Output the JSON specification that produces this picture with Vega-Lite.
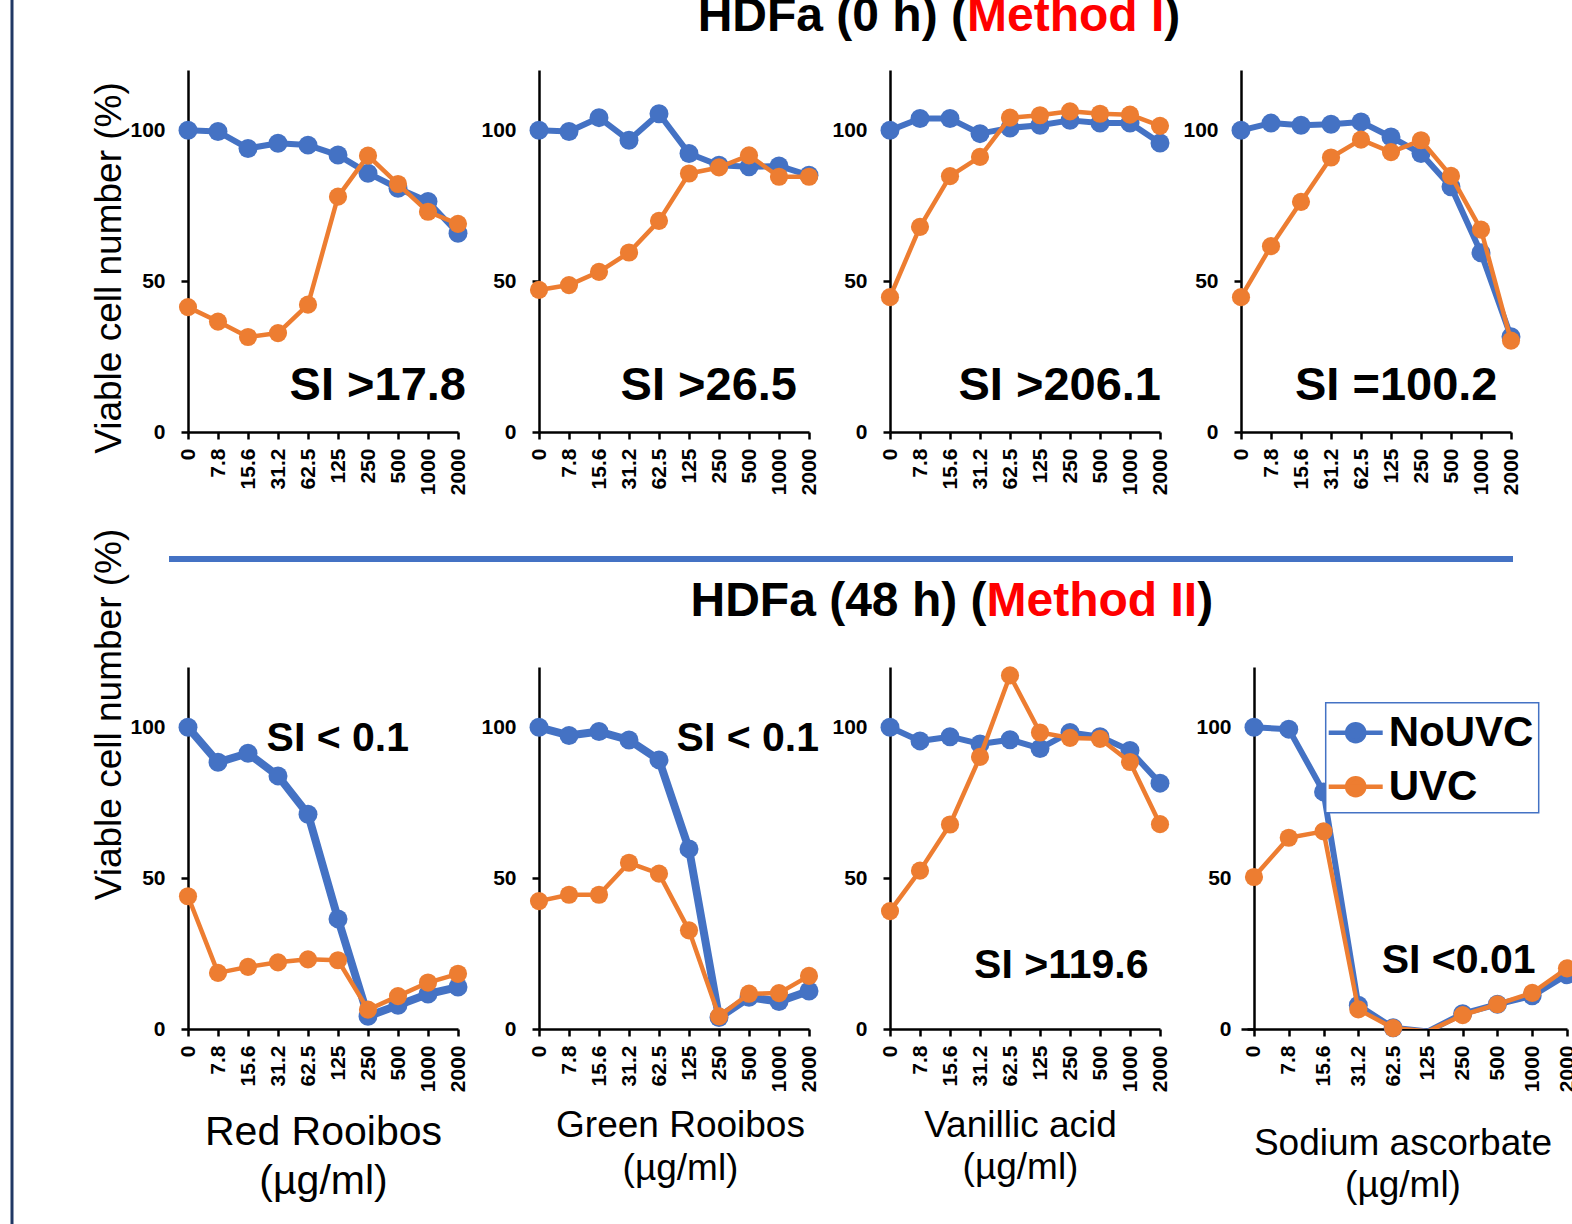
{
"$schema": "https://vega.github.io/schema/vega-lite/v6.json",
"autosize": {"type": "none"},
"padding": {"left": 188, "top": 70, "right": 1384, "bottom": 1154},
"background": "white",
"datasets": {
"cells": [
{"panel":"A1","conc":"0","series":"NoUVC","value":100},{"panel":"A1","conc":"7.8","series":"NoUVC","value":99.6},{"panel":"A1","conc":"15.6","series":"NoUVC","value":94.0},{"panel":"A1","conc":"31.2","series":"NoUVC","value":95.7},{"panel":"A1","conc":"62.5","series":"NoUVC","value":95.1},{"panel":"A1","conc":"125","series":"NoUVC","value":91.8},{"panel":"A1","conc":"250","series":"NoUVC","value":85.8},{"panel":"A1","conc":"500","series":"NoUVC","value":80.8},{"panel":"A1","conc":"1000","series":"NoUVC","value":76.4},{"panel":"A1","conc":"2000","series":"NoUVC","value":65.9},
{"panel":"A1","conc":"0","series":"UVC","value":41.4},{"panel":"A1","conc":"7.8","series":"UVC","value":36.6},{"panel":"A1","conc":"15.6","series":"UVC","value":31.5},{"panel":"A1","conc":"31.2","series":"UVC","value":32.8},{"panel":"A1","conc":"62.5","series":"UVC","value":42.2},{"panel":"A1","conc":"125","series":"UVC","value":78.0},{"panel":"A1","conc":"250","series":"UVC","value":91.6},{"panel":"A1","conc":"500","series":"UVC","value":82.2},{"panel":"A1","conc":"1000","series":"UVC","value":73.0},{"panel":"A1","conc":"2000","series":"UVC","value":69.0},
{"panel":"A2","conc":"0","series":"NoUVC","value":100},{"panel":"A2","conc":"7.8","series":"NoUVC","value":99.6},{"panel":"A2","conc":"15.6","series":"NoUVC","value":104.2},{"panel":"A2","conc":"31.2","series":"NoUVC","value":96.7},{"panel":"A2","conc":"62.5","series":"NoUVC","value":105.5},{"panel":"A2","conc":"125","series":"NoUVC","value":92.3},{"panel":"A2","conc":"250","series":"NoUVC","value":88.4},{"panel":"A2","conc":"500","series":"NoUVC","value":87.9},{"panel":"A2","conc":"1000","series":"NoUVC","value":88.2},{"panel":"A2","conc":"2000","series":"NoUVC","value":85.1},
{"panel":"A2","conc":"0","series":"UVC","value":47.1},{"panel":"A2","conc":"7.8","series":"UVC","value":48.7},{"panel":"A2","conc":"15.6","series":"UVC","value":53.1},{"panel":"A2","conc":"31.2","series":"UVC","value":59.5},{"panel":"A2","conc":"62.5","series":"UVC","value":70.0},{"panel":"A2","conc":"125","series":"UVC","value":85.7},{"panel":"A2","conc":"250","series":"UVC","value":87.7},{"panel":"A2","conc":"500","series":"UVC","value":91.7},{"panel":"A2","conc":"1000","series":"UVC","value":84.6},{"panel":"A2","conc":"2000","series":"UVC","value":84.6},
{"panel":"A3","conc":"0","series":"NoUVC","value":100},{"panel":"A3","conc":"7.8","series":"NoUVC","value":103.9},{"panel":"A3","conc":"15.6","series":"NoUVC","value":103.9},{"panel":"A3","conc":"31.2","series":"NoUVC","value":98.9},{"panel":"A3","conc":"62.5","series":"NoUVC","value":100.8},{"panel":"A3","conc":"125","series":"NoUVC","value":101.7},{"panel":"A3","conc":"250","series":"NoUVC","value":103.3},{"panel":"A3","conc":"500","series":"NoUVC","value":102.4},{"panel":"A3","conc":"1000","series":"NoUVC","value":102.4},{"panel":"A3","conc":"2000","series":"NoUVC","value":95.8},
{"panel":"A3","conc":"0","series":"UVC","value":44.7},{"panel":"A3","conc":"7.8","series":"UVC","value":68.0},{"panel":"A3","conc":"15.6","series":"UVC","value":84.8},{"panel":"A3","conc":"31.2","series":"UVC","value":91.2},{"panel":"A3","conc":"62.5","series":"UVC","value":104.2},{"panel":"A3","conc":"125","series":"UVC","value":105.0},{"panel":"A3","conc":"250","series":"UVC","value":106.3},{"panel":"A3","conc":"500","series":"UVC","value":105.5},{"panel":"A3","conc":"1000","series":"UVC","value":105.2},{"panel":"A3","conc":"2000","series":"UVC","value":101.5},
{"panel":"A4","conc":"0","series":"NoUVC","value":100},{"panel":"A4","conc":"7.8","series":"NoUVC","value":102.4},{"panel":"A4","conc":"15.6","series":"NoUVC","value":101.7},{"panel":"A4","conc":"31.2","series":"NoUVC","value":102.0},{"panel":"A4","conc":"62.5","series":"NoUVC","value":102.8},{"panel":"A4","conc":"125","series":"NoUVC","value":97.8},{"panel":"A4","conc":"250","series":"NoUVC","value":92.3},{"panel":"A4","conc":"500","series":"NoUVC","value":81.3},{"panel":"A4","conc":"1000","series":"NoUVC","value":59.4},{"panel":"A4","conc":"2000","series":"NoUVC","value":31.6},
{"panel":"A4","conc":"0","series":"UVC","value":44.7},{"panel":"A4","conc":"7.8","series":"UVC","value":61.6},{"panel":"A4","conc":"15.6","series":"UVC","value":76.3},{"panel":"A4","conc":"31.2","series":"UVC","value":91.0},{"panel":"A4","conc":"62.5","series":"UVC","value":96.9},{"panel":"A4","conc":"125","series":"UVC","value":92.8},{"panel":"A4","conc":"250","series":"UVC","value":96.7},{"panel":"A4","conc":"500","series":"UVC","value":84.9},{"panel":"A4","conc":"1000","series":"UVC","value":67.1},{"panel":"A4","conc":"2000","series":"UVC","value":30.3},
{"panel":"B1","conc":"0","series":"NoUVC","value":100},{"panel":"B1","conc":"7.8","series":"NoUVC","value":88.4},{"panel":"B1","conc":"15.6","series":"NoUVC","value":91.4},{"panel":"B1","conc":"31.2","series":"NoUVC","value":83.9},{"panel":"B1","conc":"62.5","series":"NoUVC","value":71.2},{"panel":"B1","conc":"125","series":"NoUVC","value":36.5},{"panel":"B1","conc":"250","series":"NoUVC","value":4.2},{"panel":"B1","conc":"500","series":"NoUVC","value":7.9},{"panel":"B1","conc":"1000","series":"NoUVC","value":11.6},{"panel":"B1","conc":"2000","series":"NoUVC","value":13.9},
{"panel":"B1","conc":"0","series":"UVC","value":44.0},{"panel":"B1","conc":"7.8","series":"UVC","value":18.6},{"panel":"B1","conc":"15.6","series":"UVC","value":20.6},{"panel":"B1","conc":"31.2","series":"UVC","value":22.1},{"panel":"B1","conc":"62.5","series":"UVC","value":23.1},{"panel":"B1","conc":"125","series":"UVC","value":22.8},{"panel":"B1","conc":"250","series":"UVC","value":6.4},{"panel":"B1","conc":"500","series":"UVC","value":10.9},{"panel":"B1","conc":"1000","series":"UVC","value":15.4},{"panel":"B1","conc":"2000","series":"UVC","value":18.3},
{"panel":"B2","conc":"0","series":"NoUVC","value":100},{"panel":"B2","conc":"7.8","series":"NoUVC","value":97.3},{"panel":"B2","conc":"15.6","series":"NoUVC","value":98.6},{"panel":"B2","conc":"31.2","series":"NoUVC","value":95.8},{"panel":"B2","conc":"62.5","series":"NoUVC","value":89.2},{"panel":"B2","conc":"125","series":"NoUVC","value":59.7},{"panel":"B2","conc":"250","series":"NoUVC","value":3.8},{"panel":"B2","conc":"500","series":"NoUVC","value":10.5},{"panel":"B2","conc":"1000","series":"NoUVC","value":9.1},{"panel":"B2","conc":"2000","series":"NoUVC","value":12.6},
{"panel":"B2","conc":"0","series":"UVC","value":42.4},{"panel":"B2","conc":"7.8","series":"UVC","value":44.5},{"panel":"B2","conc":"15.6","series":"UVC","value":44.5},{"panel":"B2","conc":"31.2","series":"UVC","value":55.1},{"panel":"B2","conc":"62.5","series":"UVC","value":51.5},{"panel":"B2","conc":"125","series":"UVC","value":32.7},{"panel":"B2","conc":"250","series":"UVC","value":4.2},{"panel":"B2","conc":"500","series":"UVC","value":11.7},{"panel":"B2","conc":"1000","series":"UVC","value":11.9},{"panel":"B2","conc":"2000","series":"UVC","value":17.6},
{"panel":"B3","conc":"0","series":"NoUVC","value":100},{"panel":"B3","conc":"7.8","series":"NoUVC","value":95.5},{"panel":"B3","conc":"15.6","series":"NoUVC","value":96.9},{"panel":"B3","conc":"31.2","series":"NoUVC","value":94.5},{"panel":"B3","conc":"62.5","series":"NoUVC","value":95.9},{"panel":"B3","conc":"125","series":"NoUVC","value":93.0},{"panel":"B3","conc":"250","series":"NoUVC","value":98.3},{"panel":"B3","conc":"500","series":"NoUVC","value":96.9},{"panel":"B3","conc":"1000","series":"NoUVC","value":92.3},{"panel":"B3","conc":"2000","series":"NoUVC","value":81.5},
{"panel":"B3","conc":"0","series":"UVC","value":39.1},{"panel":"B3","conc":"7.8","series":"UVC","value":52.5},{"panel":"B3","conc":"15.6","series":"UVC","value":67.8},{"panel":"B3","conc":"31.2","series":"UVC","value":90.2},{"panel":"B3","conc":"62.5","series":"UVC","value":117.2},{"panel":"B3","conc":"125","series":"UVC","value":98.3},{"panel":"B3","conc":"250","series":"UVC","value":96.5},{"panel":"B3","conc":"500","series":"UVC","value":96.2},{"panel":"B3","conc":"1000","series":"UVC","value":88.5},{"panel":"B3","conc":"2000","series":"UVC","value":67.9},
{"panel":"B4","conc":"0","series":"NoUVC","value":100},{"panel":"B4","conc":"7.8","series":"NoUVC","value":99.4},{"panel":"B4","conc":"15.6","series":"NoUVC","value":78.6},{"panel":"B4","conc":"31.2","series":"NoUVC","value":7.9},{"panel":"B4","conc":"62.5","series":"NoUVC","value":0.4},{"panel":"B4","conc":"125","series":"NoUVC","value":-0.8},{"panel":"B4","conc":"250","series":"NoUVC","value":5.1},{"panel":"B4","conc":"500","series":"NoUVC","value":8.2},{"panel":"B4","conc":"1000","series":"NoUVC","value":11.0},{"panel":"B4","conc":"2000","series":"NoUVC","value":18.0},
{"panel":"B4","conc":"0","series":"UVC","value":50.4},{"panel":"B4","conc":"7.8","series":"UVC","value":63.4},{"panel":"B4","conc":"15.6","series":"UVC","value":65.5},{"panel":"B4","conc":"31.2","series":"UVC","value":6.5},{"panel":"B4","conc":"62.5","series":"UVC","value":0.3},{"panel":"B4","conc":"125","series":"UVC","value":-0.8},{"panel":"B4","conc":"250","series":"UVC","value":4.6},{"panel":"B4","conc":"500","series":"UVC","value":8.2},{"panel":"B4","conc":"1000","series":"UVC","value":12.0},{"panel":"B4","conc":"2000","series":"UVC","value":20.1}
]
},
"data": {"name": "cells"},
"columns": 4,
"spacing": {"row": 235, "column": 81},
"align": "each",
"bounds": "flush",
"concat": [
{
"width": 270, "height": 362,
"transform": [{"filter": "datum.panel === 'A1'"}],
"encoding": {
"x": {"field": "conc", "type": "ordinal", "sort": null, "scale": {"type": "point", "domain": ["0","7.8","15.6","31.2","62.5","125","250","500","1000","2000"], "padding": 0}, "axis": {"title": null}},
"y": {"field": "value", "type": "quantitative", "scale": {"domain": [0, 120], "nice": false}, "axis": {"values": [0, 50, 100], "title": "Viable cell number (%)", "titleFontSize": 37, "titleFontWeight": "normal", "titleX": -68, "titleY": 197.5, "titleAngle": -90, "titleAlign": "center", "titleBaseline": "alphabetic"}},
"color": {"field": "series", "type": "nominal", "title": null, "scale": {"domain": ["NoUVC", "UVC"], "range": ["#4472C4", "#ED7D31"]}, "legend": {"orient": "none", "legendX": 1137.7, "legendY": 632.7, "symbolType": "M-1.2,0H1.2M-0.38,0A0.38,0.38,0,1,1,0.38,0A0.38,0.38,0,1,1,-0.38,0Z", "symbolSize": 2025, "symbolStrokeWidth": 4.5, "symbolOpacity": 1, "labelFont": "Liberation Sans", "labelFontSize": 42, "labelFontWeight": "bold", "labelColor": "black", "strokeColor": "#4472C4", "fillColor": "white", "padding": 5, "rowPadding": 8, "labelOffset": 8, "encode": {"symbols": {"update": {"fill": {"scale": "color", "field": "value"}, "stroke": {"scale": "color", "field": "value"}, "strokeWidth": {"value": 4.5}, "opacity": {"value": 1}}}}}}
},
"layer": [
{"transform": [{"filter": "datum.series === 'NoUVC'"}], "mark": {"type": "line", "strokeWidth": 6, "strokeJoin": "round"}},
{"transform": [{"filter": "datum.series === 'NoUVC' && datum.value >= 0"}], "mark": {"type": "circle", "size": 360, "opacity": 1}},
{"transform": [{"filter": "datum.series === 'UVC'"}], "mark": {"type": "line", "strokeWidth": 4.5, "strokeJoin": "round"}},
{"transform": [{"filter": "datum.series === 'UVC' && datum.value >= 0"}], "mark": {"type": "circle", "size": 330, "opacity": 1}},
{"transform": [{"filter": "datum.series === 'NoUVC' && datum.conc === '2000'"}], "mark": {"type": "text", "font": "Liberation Sans", "fontWeight": "bold", "fontSize": 47, "align": "right", "baseline": "alphabetic", "dx": 8}, "encoding": {"y": {"datum": 10.6, "type": "quantitative"}, "text": {"value": "SI >17.8"}, "color": {"value": "black"}}},
{"transform": [{"filter": "datum.series === 'NoUVC' && datum.conc === '0'"}], "mark": {"type": "rule", "strokeWidth": 3, "xOffset": -176, "yOffset": -70, "y2Offset": 792}, "encoding": {"y": {"datum": 120, "type": "quantitative"}, "y2": {"datum": 0}, "color": {"value": "#203864"}}}
]
},
{
"width": 270, "height": 362,
"transform": [{"filter": "datum.panel === 'A2'"}],
"encoding": {
"x": {"field": "conc", "type": "ordinal", "sort": null, "scale": {"type": "point", "domain": ["0","7.8","15.6","31.2","62.5","125","250","500","1000","2000"], "padding": 0}, "axis": {"title": null}},
"y": {"field": "value", "type": "quantitative", "scale": {"domain": [0, 120], "nice": false}, "axis": {"values": [0, 50, 100], "title": null}},
"color": {"field": "series", "type": "nominal", "title": null, "scale": {"domain": ["NoUVC", "UVC"], "range": ["#4472C4", "#ED7D31"]}, "legend": {"orient": "none", "legendX": 1137.7, "legendY": 632.7, "symbolType": "M-1.2,0H1.2M-0.38,0A0.38,0.38,0,1,1,0.38,0A0.38,0.38,0,1,1,-0.38,0Z", "symbolSize": 2025, "symbolStrokeWidth": 4.5, "symbolOpacity": 1, "labelFont": "Liberation Sans", "labelFontSize": 42, "labelFontWeight": "bold", "labelColor": "black", "strokeColor": "#4472C4", "fillColor": "white", "padding": 5, "rowPadding": 8, "labelOffset": 8, "encode": {"symbols": {"update": {"fill": {"scale": "color", "field": "value"}, "stroke": {"scale": "color", "field": "value"}, "strokeWidth": {"value": 4.5}, "opacity": {"value": 1}}}}}}
},
"layer": [
{"transform": [{"filter": "datum.series === 'NoUVC'"}], "mark": {"type": "line", "strokeWidth": 6, "strokeJoin": "round"}},
{"transform": [{"filter": "datum.series === 'NoUVC' && datum.value >= 0"}], "mark": {"type": "circle", "size": 360, "opacity": 1}},
{"transform": [{"filter": "datum.series === 'UVC'"}], "mark": {"type": "line", "strokeWidth": 4.5, "strokeJoin": "round"}},
{"transform": [{"filter": "datum.series === 'UVC' && datum.value >= 0"}], "mark": {"type": "circle", "size": 330, "opacity": 1}},
{"transform": [{"filter": "datum.series === 'NoUVC' && datum.conc === '2000'"}], "mark": {"type": "text", "font": "Liberation Sans", "fontWeight": "bold", "fontSize": 47, "align": "right", "baseline": "alphabetic", "dx": -12}, "encoding": {"y": {"datum": 10.6, "type": "quantitative"}, "text": {"value": "SI >26.5"}, "color": {"value": "black"}}}
]
},
{
"width": 270, "height": 362,
"transform": [{"filter": "datum.panel === 'A3'"}],
"encoding": {
"x": {"field": "conc", "type": "ordinal", "sort": null, "scale": {"type": "point", "domain": ["0","7.8","15.6","31.2","62.5","125","250","500","1000","2000"], "padding": 0}, "axis": {"title": null}},
"y": {"field": "value", "type": "quantitative", "scale": {"domain": [0, 120], "nice": false}, "axis": {"values": [0, 50, 100], "title": null}},
"color": {"field": "series", "type": "nominal", "title": null, "scale": {"domain": ["NoUVC", "UVC"], "range": ["#4472C4", "#ED7D31"]}, "legend": {"orient": "none", "legendX": 1137.7, "legendY": 632.7, "symbolType": "M-1.2,0H1.2M-0.38,0A0.38,0.38,0,1,1,0.38,0A0.38,0.38,0,1,1,-0.38,0Z", "symbolSize": 2025, "symbolStrokeWidth": 4.5, "symbolOpacity": 1, "labelFont": "Liberation Sans", "labelFontSize": 42, "labelFontWeight": "bold", "labelColor": "black", "strokeColor": "#4472C4", "fillColor": "white", "padding": 5, "rowPadding": 8, "labelOffset": 8, "encode": {"symbols": {"update": {"fill": {"scale": "color", "field": "value"}, "stroke": {"scale": "color", "field": "value"}, "strokeWidth": {"value": 4.5}, "opacity": {"value": 1}}}}}}
},
"layer": [
{"transform": [{"filter": "datum.series === 'NoUVC'"}], "mark": {"type": "line", "strokeWidth": 6, "strokeJoin": "round"}},
{"transform": [{"filter": "datum.series === 'NoUVC' && datum.value >= 0"}], "mark": {"type": "circle", "size": 360, "opacity": 1}},
{"transform": [{"filter": "datum.series === 'UVC'"}], "mark": {"type": "line", "strokeWidth": 4.5, "strokeJoin": "round"}},
{"transform": [{"filter": "datum.series === 'UVC' && datum.value >= 0"}], "mark": {"type": "circle", "size": 330, "opacity": 1}},
{"transform": [{"filter": "datum.series === 'NoUVC' && datum.conc === '2000'"}], "mark": {"type": "text", "font": "Liberation Sans", "fontWeight": "bold", "fontSize": 47, "align": "right", "baseline": "alphabetic", "dx": 1}, "encoding": {"y": {"datum": 10.6, "type": "quantitative"}, "text": {"value": "SI >206.1"}, "color": {"value": "black"}}},
{"transform": [{"filter": "datum.series === 'NoUVC' && datum.conc === '31.2'"}], "mark": {"type": "text", "font": "Liberation Sans", "fontWeight": "bold", "fontSize": 48, "align": "right", "baseline": "alphabetic", "dx": -13, "dy": -39}, "encoding": {"y": {"datum": 120, "type": "quantitative"}, "text": {"value": "HDFa (0 h) ("}, "color": {"value": "black"}}},
{"transform": [{"filter": "datum.series === 'NoUVC' && datum.conc === '31.2'"}], "mark": {"type": "text", "font": "Liberation Sans", "fontWeight": "bold", "fontSize": 48, "align": "left", "baseline": "alphabetic", "dx": -13, "dy": -39}, "encoding": {"y": {"datum": 120, "type": "quantitative"}, "text": {"value": "Method I"}, "color": {"value": "#FF0000"}}},
{"transform": [{"filter": "datum.series === 'NoUVC' && datum.conc === '2000'"}], "mark": {"type": "text", "font": "Liberation Sans", "fontWeight": "bold", "fontSize": 48, "align": "left", "baseline": "alphabetic", "dx": 4.3, "dy": -39}, "encoding": {"y": {"datum": 120, "type": "quantitative"}, "text": {"value": ")"}, "color": {"value": "black"}}}
]
},
{
"width": 270, "height": 362,
"transform": [{"filter": "datum.panel === 'A4'"}],
"encoding": {
"x": {"field": "conc", "type": "ordinal", "sort": null, "scale": {"type": "point", "domain": ["0","7.8","15.6","31.2","62.5","125","250","500","1000","2000"], "padding": 0}, "axis": {"title": null}},
"y": {"field": "value", "type": "quantitative", "scale": {"domain": [0, 120], "nice": false}, "axis": {"values": [0, 50, 100], "title": null}},
"color": {"field": "series", "type": "nominal", "title": null, "scale": {"domain": ["NoUVC", "UVC"], "range": ["#4472C4", "#ED7D31"]}, "legend": {"orient": "none", "legendX": 1137.7, "legendY": 632.7, "symbolType": "M-1.2,0H1.2M-0.38,0A0.38,0.38,0,1,1,0.38,0A0.38,0.38,0,1,1,-0.38,0Z", "symbolSize": 2025, "symbolStrokeWidth": 4.5, "symbolOpacity": 1, "labelFont": "Liberation Sans", "labelFontSize": 42, "labelFontWeight": "bold", "labelColor": "black", "strokeColor": "#4472C4", "fillColor": "white", "padding": 5, "rowPadding": 8, "labelOffset": 8, "encode": {"symbols": {"update": {"fill": {"scale": "color", "field": "value"}, "stroke": {"scale": "color", "field": "value"}, "strokeWidth": {"value": 4.5}, "opacity": {"value": 1}}}}}}
},
"layer": [
{"transform": [{"filter": "datum.series === 'NoUVC'"}], "mark": {"type": "line", "strokeWidth": 6, "strokeJoin": "round"}},
{"transform": [{"filter": "datum.series === 'NoUVC' && datum.value >= 0"}], "mark": {"type": "circle", "size": 360, "opacity": 1}},
{"transform": [{"filter": "datum.series === 'UVC'"}], "mark": {"type": "line", "strokeWidth": 4.5, "strokeJoin": "round"}},
{"transform": [{"filter": "datum.series === 'UVC' && datum.value >= 0"}], "mark": {"type": "circle", "size": 330, "opacity": 1}},
{"transform": [{"filter": "datum.series === 'NoUVC' && datum.conc === '2000'"}], "mark": {"type": "text", "font": "Liberation Sans", "fontWeight": "bold", "fontSize": 47, "align": "right", "baseline": "alphabetic", "dx": -13.5}, "encoding": {"y": {"datum": 10.6, "type": "quantitative"}, "text": {"value": "SI =100.2"}, "color": {"value": "black"}}}
]
},
{
"width": 270, "height": 362,
"transform": [{"filter": "datum.panel === 'B1'"}],
"encoding": {
"x": {"field": "conc", "type": "ordinal", "sort": null, "scale": {"type": "point", "domain": ["0","7.8","15.6","31.2","62.5","125","250","500","1000","2000"], "padding": 0}, "axis": {"title": ["Red Rooibos", "(µg/ml)"], "titleFontSize": 41, "titleFontWeight": "normal", "titleX": 135, "titleY": 115, "titleAlign": "center", "titleBaseline": "alphabetic", "titleLineHeight": 49}},
"y": {"field": "value", "type": "quantitative", "scale": {"domain": [0, 120], "nice": false}, "axis": {"values": [0, 50, 100], "title": "Viable cell number (%)", "titleFontSize": 37, "titleFontWeight": "normal", "titleX": -68, "titleY": 47, "titleAngle": -90, "titleAlign": "center", "titleBaseline": "alphabetic"}},
"color": {"field": "series", "type": "nominal", "title": null, "scale": {"domain": ["NoUVC", "UVC"], "range": ["#4472C4", "#ED7D31"]}, "legend": {"orient": "none", "legendX": 1137.7, "legendY": 632.7, "symbolType": "M-1.2,0H1.2M-0.38,0A0.38,0.38,0,1,1,0.38,0A0.38,0.38,0,1,1,-0.38,0Z", "symbolSize": 2025, "symbolStrokeWidth": 4.5, "symbolOpacity": 1, "labelFont": "Liberation Sans", "labelFontSize": 42, "labelFontWeight": "bold", "labelColor": "black", "strokeColor": "#4472C4", "fillColor": "white", "padding": 5, "rowPadding": 8, "labelOffset": 8, "encode": {"symbols": {"update": {"fill": {"scale": "color", "field": "value"}, "stroke": {"scale": "color", "field": "value"}, "strokeWidth": {"value": 4.5}, "opacity": {"value": 1}}}}}}
},
"layer": [
{"transform": [{"filter": "datum.series === 'NoUVC'"}], "mark": {"type": "line", "strokeWidth": 8, "strokeJoin": "round"}},
{"transform": [{"filter": "datum.series === 'NoUVC' && datum.value >= 0"}], "mark": {"type": "circle", "size": 360, "opacity": 1}},
{"transform": [{"filter": "datum.series === 'UVC'"}], "mark": {"type": "line", "strokeWidth": 4.5, "strokeJoin": "round"}},
{"transform": [{"filter": "datum.series === 'UVC' && datum.value >= 0"}], "mark": {"type": "circle", "size": 330, "opacity": 1}},
{"transform": [{"filter": "datum.series === 'NoUVC' && datum.conc === '2000'"}], "mark": {"type": "text", "font": "Liberation Sans", "fontWeight": "bold", "fontSize": 41, "align": "right", "baseline": "alphabetic", "dx": -49}, "encoding": {"y": {"datum": 92.2, "type": "quantitative"}, "text": {"value": "SI < 0.1"}, "color": {"value": "black"}}},
{"transform": [{"filter": "datum.series === 'NoUVC' && datum.conc === '0'"}], "mark": {"type": "rule", "strokeWidth": 6, "xOffset": -19, "x2Offset": 1055, "yOffset": -108}, "encoding": {"x2": {"datum": "2000"}, "y": {"datum": 120, "type": "quantitative"}, "color": {"value": "#4472C4"}}}
]
},
{
"width": 270, "height": 362,
"transform": [{"filter": "datum.panel === 'B2'"}],
"encoding": {
"x": {"field": "conc", "type": "ordinal", "sort": null, "scale": {"type": "point", "domain": ["0","7.8","15.6","31.2","62.5","125","250","500","1000","2000"], "padding": 0}, "axis": {"title": ["Green Rooibos", "(µg/ml)"], "titleFontSize": 37, "titleFontWeight": "normal", "titleX": 141, "titleY": 107, "titleAlign": "center", "titleBaseline": "alphabetic", "titleLineHeight": 43}},
"y": {"field": "value", "type": "quantitative", "scale": {"domain": [0, 120], "nice": false}, "axis": {"values": [0, 50, 100], "title": null}},
"color": {"field": "series", "type": "nominal", "title": null, "scale": {"domain": ["NoUVC", "UVC"], "range": ["#4472C4", "#ED7D31"]}, "legend": {"orient": "none", "legendX": 1137.7, "legendY": 632.7, "symbolType": "M-1.2,0H1.2M-0.38,0A0.38,0.38,0,1,1,0.38,0A0.38,0.38,0,1,1,-0.38,0Z", "symbolSize": 2025, "symbolStrokeWidth": 4.5, "symbolOpacity": 1, "labelFont": "Liberation Sans", "labelFontSize": 42, "labelFontWeight": "bold", "labelColor": "black", "strokeColor": "#4472C4", "fillColor": "white", "padding": 5, "rowPadding": 8, "labelOffset": 8, "encode": {"symbols": {"update": {"fill": {"scale": "color", "field": "value"}, "stroke": {"scale": "color", "field": "value"}, "strokeWidth": {"value": 4.5}, "opacity": {"value": 1}}}}}}
},
"layer": [
{"transform": [{"filter": "datum.series === 'NoUVC'"}], "mark": {"type": "line", "strokeWidth": 8, "strokeJoin": "round"}},
{"transform": [{"filter": "datum.series === 'NoUVC' && datum.value >= 0"}], "mark": {"type": "circle", "size": 360, "opacity": 1}},
{"transform": [{"filter": "datum.series === 'UVC'"}], "mark": {"type": "line", "strokeWidth": 4.5, "strokeJoin": "round"}},
{"transform": [{"filter": "datum.series === 'UVC' && datum.value >= 0"}], "mark": {"type": "circle", "size": 330, "opacity": 1}},
{"transform": [{"filter": "datum.series === 'NoUVC' && datum.conc === '2000'"}], "mark": {"type": "text", "font": "Liberation Sans", "fontWeight": "bold", "fontSize": 41, "align": "right", "baseline": "alphabetic", "dx": 10}, "encoding": {"y": {"datum": 92.0, "type": "quantitative"}, "text": {"value": "SI < 0.1"}, "color": {"value": "black"}}}
]
},
{
"width": 270, "height": 362,
"transform": [{"filter": "datum.panel === 'B3'"}],
"encoding": {
"x": {"field": "conc", "type": "ordinal", "sort": null, "scale": {"type": "point", "domain": ["0","7.8","15.6","31.2","62.5","125","250","500","1000","2000"], "padding": 0}, "axis": {"title": ["Vanillic acid", "(µg/ml)"], "titleFontSize": 37, "titleFontWeight": "normal", "titleX": 130, "titleY": 107, "titleAlign": "center", "titleBaseline": "alphabetic", "titleLineHeight": 42}},
"y": {"field": "value", "type": "quantitative", "scale": {"domain": [0, 120], "nice": false}, "axis": {"values": [0, 50, 100], "title": null}},
"color": {"field": "series", "type": "nominal", "title": null, "scale": {"domain": ["NoUVC", "UVC"], "range": ["#4472C4", "#ED7D31"]}, "legend": {"orient": "none", "legendX": 1137.7, "legendY": 632.7, "symbolType": "M-1.2,0H1.2M-0.38,0A0.38,0.38,0,1,1,0.38,0A0.38,0.38,0,1,1,-0.38,0Z", "symbolSize": 2025, "symbolStrokeWidth": 4.5, "symbolOpacity": 1, "labelFont": "Liberation Sans", "labelFontSize": 42, "labelFontWeight": "bold", "labelColor": "black", "strokeColor": "#4472C4", "fillColor": "white", "padding": 5, "rowPadding": 8, "labelOffset": 8, "encode": {"symbols": {"update": {"fill": {"scale": "color", "field": "value"}, "stroke": {"scale": "color", "field": "value"}, "strokeWidth": {"value": 4.5}, "opacity": {"value": 1}}}}}}
},
"layer": [
{"transform": [{"filter": "datum.series === 'NoUVC'"}], "mark": {"type": "line", "strokeWidth": 6, "strokeJoin": "round"}},
{"transform": [{"filter": "datum.series === 'NoUVC' && datum.value >= 0"}], "mark": {"type": "circle", "size": 360, "opacity": 1}},
{"transform": [{"filter": "datum.series === 'UVC'"}], "mark": {"type": "line", "strokeWidth": 4.5, "strokeJoin": "round"}},
{"transform": [{"filter": "datum.series === 'UVC' && datum.value >= 0"}], "mark": {"type": "circle", "size": 330, "opacity": 1}},
{"transform": [{"filter": "datum.series === 'NoUVC' && datum.conc === '2000'"}], "mark": {"type": "text", "font": "Liberation Sans", "fontWeight": "bold", "fontSize": 41, "align": "right", "baseline": "alphabetic", "dx": -11.5}, "encoding": {"y": {"datum": 16.9, "type": "quantitative"}, "text": {"value": "SI >119.6"}, "color": {"value": "black"}}},
{"transform": [{"filter": "datum.series === 'NoUVC' && datum.conc === '31.2'"}], "mark": {"type": "text", "font": "Liberation Sans", "fontWeight": "bold", "fontSize": 48, "align": "right", "baseline": "alphabetic", "dx": 6.5, "dy": -51}, "encoding": {"y": {"datum": 120, "type": "quantitative"}, "text": {"value": "HDFa (48 h) ("}, "color": {"value": "black"}}},
{"transform": [{"filter": "datum.series === 'NoUVC' && datum.conc === '31.2'"}], "mark": {"type": "text", "font": "Liberation Sans", "fontWeight": "bold", "fontSize": 48, "align": "left", "baseline": "alphabetic", "dx": 6.5, "dy": -51}, "encoding": {"y": {"datum": 120, "type": "quantitative"}, "text": {"value": "Method II"}, "color": {"value": "#FF0000"}}},
{"transform": [{"filter": "datum.series === 'NoUVC' && datum.conc === '2000'"}], "mark": {"type": "text", "font": "Liberation Sans", "fontWeight": "bold", "fontSize": 48, "align": "left", "baseline": "alphabetic", "dx": 37.2, "dy": -51}, "encoding": {"y": {"datum": 120, "type": "quantitative"}, "text": {"value": ")"}, "color": {"value": "black"}}}
]
},
{
"width": 326, "height": 362,
"transform": [{"filter": "datum.panel === 'B4'"}],
"encoding": {
"x": {"field": "conc", "type": "ordinal", "sort": null, "scale": {"type": "point", "domain": ["0","7.8","15.6","31.2","62.5","125","250","500","1000","2000"], "padding": 0.1866, "align": 1}, "axis": {"title": ["Sodium ascorbate", "(µg/ml)"], "titleFontSize": 37, "titleFontWeight": "normal", "titleX": 161.5, "titleY": 125, "titleAlign": "center", "titleBaseline": "alphabetic", "titleLineHeight": 42}},
"y": {"field": "value", "type": "quantitative", "scale": {"domain": [0, 120], "nice": false}, "axis": {"values": [0, 50, 100], "title": null, "offset": -13}},
"color": {"field": "series", "type": "nominal", "title": null, "scale": {"domain": ["NoUVC", "UVC"], "range": ["#4472C4", "#ED7D31"]}, "legend": {"orient": "none", "legendX": 1137.7, "legendY": 632.7, "symbolType": "M-1.2,0H1.2M-0.38,0A0.38,0.38,0,1,1,0.38,0A0.38,0.38,0,1,1,-0.38,0Z", "symbolSize": 2025, "symbolStrokeWidth": 4.5, "symbolOpacity": 1, "labelFont": "Liberation Sans", "labelFontSize": 42, "labelFontWeight": "bold", "labelColor": "black", "strokeColor": "#4472C4", "fillColor": "white", "padding": 5, "rowPadding": 8, "labelOffset": 8, "encode": {"symbols": {"update": {"fill": {"scale": "color", "field": "value"}, "stroke": {"scale": "color", "field": "value"}, "strokeWidth": {"value": 4.5}, "opacity": {"value": 1}}}}}}
},
"layer": [
{"transform": [{"filter": "datum.series === 'NoUVC'"}], "mark": {"type": "line", "strokeWidth": 6, "strokeJoin": "round", "clip": true}},
{"transform": [{"filter": "datum.series === 'NoUVC' && datum.value >= 0"}], "mark": {"type": "circle", "size": 360, "opacity": 1}},
{"transform": [{"filter": "datum.series === 'UVC'"}], "mark": {"type": "line", "strokeWidth": 4.5, "strokeJoin": "round", "clip": true}},
{"transform": [{"filter": "datum.series === 'UVC' && datum.value >= 0"}], "mark": {"type": "circle", "size": 330, "opacity": 1}},
{"transform": [{"filter": "datum.series === 'NoUVC' && datum.conc === '2000'"}], "mark": {"type": "text", "font": "Liberation Sans", "fontWeight": "bold", "fontSize": 41, "align": "right", "baseline": "alphabetic", "dx": -31.5}, "encoding": {"y": {"datum": 18.7, "type": "quantitative"}, "text": {"value": "SI <0.01"}, "color": {"value": "black"}}}
]
}
],
"config": {
"font": "Liberation Sans",
"view": {"stroke": null},
"axis": {"domainColor": "black", "domainWidth": 2.5, "tickColor": "black", "tickWidth": 2.5, "tickSize": 7, "grid": false, "labelFont": "Liberation Sans", "labelFontWeight": "bold", "labelColor": "black", "titleFont": "Liberation Sans", "titleFontWeight": "normal", "titleColor": "black", "labelOverlap": false, "labelFlush": false, "labelBound": false},
"axisX": {"labelAngle": -90, "labelFontSize": 21, "labelPadding": 9},
"axisY": {"labelFontSize": 21, "labelPadding": 16},
"legend": {"strokeWidth": 1.5}
}
}
